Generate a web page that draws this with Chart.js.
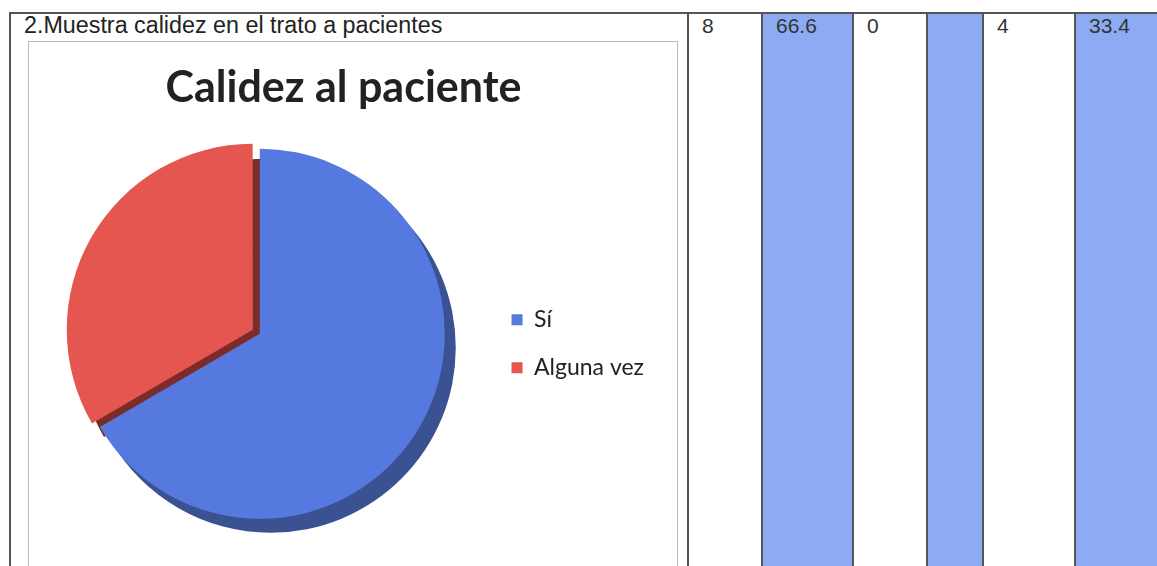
<!DOCTYPE html>
<html>
<head>
<meta charset="utf-8">
<script src="https://cdn.jsdelivr.net/npm/chart.js@4.4.1/dist/chart.umd.min.js"></script>
<style>
  body { margin: 0; background: #fff; width: 1157px; height: 566px; overflow: hidden; position: relative; font-family: "Liberation Sans", Arial, sans-serif; }
  .hl { position: absolute; background: #555; }
  .cell { position: absolute; top: 12px; height: 560px; }
  .num { position: absolute; top: 14px; font-size: 21px; color: #333; }
  #rowlabel { position: absolute; left: 24px; top: 12px; font-size: 23.3px; color: #222; }
  #chartbox { position: absolute; left: 28px; top: 41px; width: 648px; height: 540px; border: 1px solid #bbb; }
  #wrap { position: absolute; left: 29px; top: 42px; width: 647px; height: 524px; }
</style>
</head>
<body>
<div id="table"></div>
<div id="rowlabel">2.Muestra calidez en el trato a pacientes</div>
<div id="chartbox"></div>
<div id="wrap"><canvas id="pie"></canvas></div>
<script>
// valores de la fila
const rowCounts = ['8', '0', '4'];
const rowPercents = ['66.6', '', '33.4'];

// datos del grafico
const pieLabels = ['Sí', 'Alguna vez'];
const pieValues = [66.6, 33.4];
const pieColors = ['#5579DF', '#E4564F'];
const pieSides = ['#3A5192', '#7B2B28'];

// tabla dibujada con divs
let table = document.getElementById('table');
let cols = [688, 762, 853, 927, 983, 1075, 1157];
let addLine = function (x, y, w, h) {
    let d = document.createElement('div');
    d.className = 'hl';
    d.style.left = x + 'px'; d.style.top = y + 'px';
    d.style.width = w + 'px'; d.style.height = h + 'px';
    table.appendChild(d);
};
for (let i = 0; i < cols.length - 1; i++) {
    let x0 = cols[i], x1 = cols[i + 1];
    let isPct = i % 2 == 1;
    if (isPct) {
        let c = document.createElement('div');
        c.className = 'cell';
        c.style.left = x0 + 'px';
        c.style.width = (x1 - x0) + 'px';
        c.style.background = '#8DABF2';
        table.appendChild(c);
    }
    let n = document.createElement('div');
    n.className = 'num';
    n.style.left = (x0 + 14) + 'px';
    n.textContent = isPct ? rowPercents[(i - 1) / 2] : rowCounts[i / 2];
    table.appendChild(n);
}
addLine(9, 12, 1148, 2);
addLine(9, 12, 2, 560);
cols.slice(0, 6).forEach(x => addLine(x - 1, 12, 2, 560));

// cara lateral del pastel (efecto 3D)
const depthPlugin = {
    id: 'depth',
    beforeDatasetsDraw(chart) {
        let ctx = chart.ctx;
        let meta = chart.getDatasetMeta(0);
        ctx.save();
        meta.data.forEach((arc, i) => {
            let p = arc.getProps(['x', 'y', 'startAngle', 'endAngle', 'outerRadius'], true);
            let off = (arc.options.offset || 0) / 4; // chart.js usa offset/4 al dibujar
            let mid = (p.startAngle + p.endAngle) / 2;
            let cx = p.x + Math.cos(mid) * off + 11;
            let cy = p.y + Math.sin(mid) * off + 14;
            ctx.fillStyle = pieSides[i];
            ctx.beginPath();
            ctx.moveTo(cx, cy);
            ctx.arc(cx, cy, p.outerRadius, p.startAngle, p.endAngle);
            ctx.closePath();
            ctx.fill();
        });
        ctx.restore();
    }
};

new Chart(document.getElementById('pie'), {
    type: 'pie',
    data: {
        labels: pieLabels,
        datasets: [{
            data: pieValues,
            backgroundColor: pieColors,
            borderWidth: 0,
            offset: [0, 32],
            radius: 185,
            clip: false
        }]
    },
    options: {
        responsive: true,
        maintainAspectRatio: false,
        animation: false,
        layout: { padding: { left: 4, right: 22, bottom: 48 } },
        plugins: {
            title: {
                display: true,
                text: 'Calidez al paciente',
                color: '#222',
                font: { family: 'Lato', size: 43, weight: 'bold' },
                padding: { top: 20, bottom: 36 }
            },
            legend: {
                position: 'right',
                fullSize: false,
                title: { display: true, text: ' ', padding: 4, font: { size: 10 } },
                labels: {
                    boxWidth: 11,
                    boxHeight: 11,
                    padding: 25,
                    color: '#222',
                    font: { family: 'Lato', size: 23 }
                }
            },
            tooltip: { enabled: false }
        }
    },
    plugins: [depthPlugin]
});
</script>
</body>
</html>
